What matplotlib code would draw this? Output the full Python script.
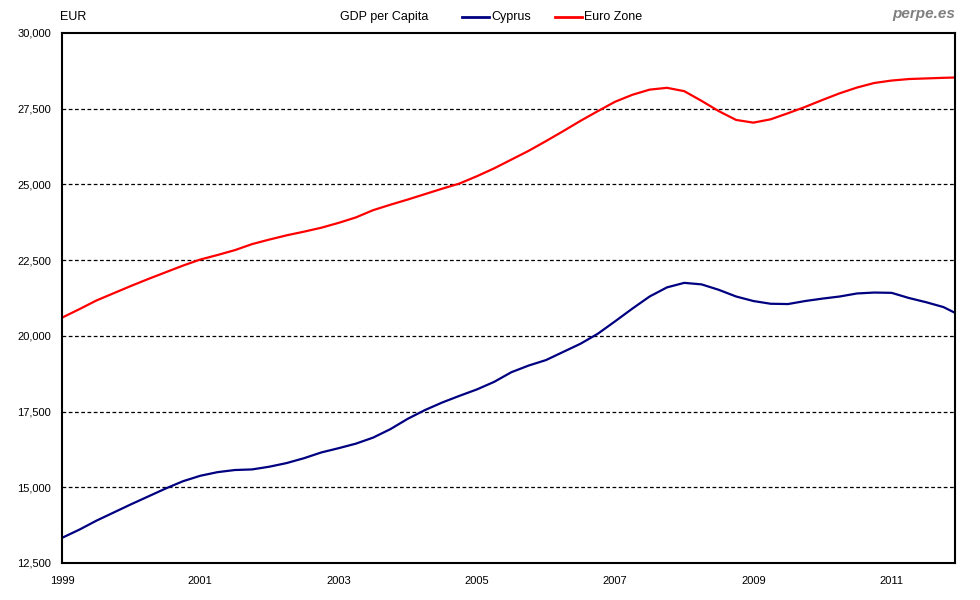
import numpy as np
import matplotlib.pyplot as plt
from matplotlib.lines import Line2D
from matplotlib.ticker import FuncFormatter

# month index since Jan 1999 (quarterly readings + last month)
meses = [0, 3, 6, 9, 12, 15, 18, 21, 24, 27, 30, 33, 36, 39, 42, 45, 48, 51,
         54, 57, 60, 63, 66, 69, 72, 75, 78, 81, 84, 87, 90, 93, 96, 99, 102,
         105, 108, 111, 114, 117, 120, 123, 126, 129, 132, 135, 138, 141, 144,
         147, 150, 153, 155]

chipre = [13330, 13600, 13900, 14170, 14440, 14700, 14960, 15200, 15380, 15500,
          15570, 15590, 15680, 15800, 15960, 16150, 16290, 16440, 16640, 16920,
          17260, 17550, 17800, 18020, 18230, 18480, 18800, 19020, 19200, 19470,
          19740, 20070, 20480, 20900, 21300, 21600, 21750, 21700, 21520, 21300,
          21150, 21060, 21050, 21150, 21230, 21300, 21400, 21430, 21420, 21250,
          21110, 20950, 20760]

eurozona = [20600, 20880, 21170, 21410, 21650, 21880, 22100, 22320, 22520, 22670,
            22830, 23030, 23180, 23320, 23440, 23570, 23730, 23910, 24150, 24330,
            24500, 24680, 24860, 25030, 25270, 25530, 25820, 26110, 26430, 26760,
            27100, 27420, 27730, 27960, 28130, 28190, 28080, 27760, 27420, 27130,
            27040, 27150, 27350, 27560, 27790, 28010, 28200, 28350, 28430, 28480,
            28500, 28520, 28530]

anos_ticks = [0, 24, 48, 72, 96, 120, 144]
anos_labels = ['1999', '2001', '2003', '2005', '2007', '2009', '2011']

plt.rcParams['font.family'] = ['Liberation Sans', 'DejaVu Sans']

fig = plt.figure(figsize=(9.8, 6.0), dpi=100)
ax = fig.add_axes([62 / 980, 37 / 600, 893 / 980, 530 / 600])

ax.plot(meses, chipre, color='#000080', linewidth=1.6)
ax.plot(meses, eurozona, color='#FF0000', linewidth=1.6)

ax.set_xlim(0, 155)
ax.set_ylim(12500, 30000)
ax.set_yticks(np.arange(12500, 30001, 2500))
ax.yaxis.set_major_formatter(FuncFormatter(lambda v, p: f'{int(v):,}'))
ax.set_xticks(anos_ticks)
ax.set_xticklabels(anos_labels)
ax.tick_params(axis='both', length=0, labelsize=8, colors='black')
ax.tick_params(axis='y', pad=8)
ax.tick_params(axis='x', pad=9)

for v in range(15000, 30000, 2500):
    ax.axhline(v, color='black', linestyle=(0, (3, 2)), linewidth=0.9, zorder=0)

for s in ax.spines.values():
    s.set_linewidth(1.5)
    s.set_color('black')

# cabecalho
fig.text(60 / 980, 1 - 17 / 600, 'EUR', fontsize=9, va='center', ha='left')
fig.text(384 / 980, 1 - 17 / 600, 'GDP per Capita', fontsize=9, va='center', ha='center')
fig.add_artist(Line2D([462 / 980, 489 / 980], [1 - 17 / 600] * 2, color='#000080', linewidth=2.0))
fig.text(491 / 980, 1 - 17 / 600, 'Cyprus', fontsize=9, va='center', ha='left')
fig.add_artist(Line2D([555 / 980, 582 / 980], [1 - 17 / 600] * 2, color='#FF0000', linewidth=2.0))
fig.text(584 / 980, 1 - 17 / 600, 'Euro Zone', fontsize=9, va='center', ha='left')
fig.text(955 / 980, 1 - 14 / 600, 'perpe.es', fontsize=11, va='center', ha='right',
         color='#808080', fontweight='bold', fontstyle='italic')

plt.savefig('out.png', dpi=100)
